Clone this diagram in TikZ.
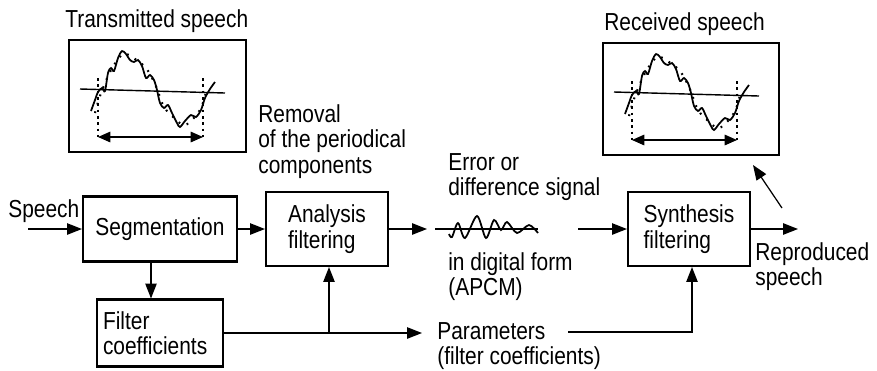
\documentclass[tikz,border=0pt]{standalone}
\usepackage{fontspec}
\setmainfont[FakeStretch=0.85]{Liberation Sans}
\usetikzlibrary{arrows.meta,calc}

% one speech frame, drawn in pixel units of the frame on the left
\newcommand\speechwave{%
  \draw[line width=0.8pt] (80,89) -- (225,93);
  \draw[cutline] (98,78) -- (98,137);
  \draw[cutline] (203,78) -- (203,137);
  \draw[period] (98,137) -- (203,137);
  \draw[wave] plot[smooth] coordinates {(91,111) (95,100) (98,92) (102,88) (105,91)
    (108,73) (111,68) (114,71) (118,58) (122,51) (126,54) (130,60) (134,62) (138,60)
    (142,66) (146,78) (150,75) (154,80) (157,90) (160,103) (164,108) (168,105)
    (172,113) (177,123) (180,127) (185,121) (191,115) (196,117) (201,110) (205,98)
    (210,89) (215,82)};
  \draw[dots] plot[smooth] coordinates {(95,113) (100,96) (110,72) (123,54) (135,59)
    (146,68) (155,84) (163,105) (170,114) (185,125) (200,110) (206,92)};
}

\begin{document}
\begin{tikzpicture}[x=0.02cm,y=-0.02cm,
  font=\fontsize{14pt}{14.5pt}\selectfont,
  block/.style={draw,line width=1.2pt,align=left,inner sep=0pt},
  frame/.style={draw,line width=1.1pt,inner sep=0pt},
  lbl/.style={inner sep=0pt,align=left},
  arr/.style={-{Triangle[length=8.5pt,width=6.5pt]},line width=0.7pt},
  period/.style={{Triangle[length=7pt,width=6pt]}-{Triangle[length=7pt,width=6pt]},line width=0.7pt},
  cutline/.style={line width=1.1pt,dash pattern=on 1.6pt off 2pt},
  wave/.style={line width=1pt},
  dots/.style={line width=1.2pt,dash pattern=on 1pt off 4pt}]
\useasboundingbox (0,0) rectangle (877,370);

% speech frames
\node[frame,minimum width=3.54cm,minimum height=2.24cm] (txbox) at (157.5,96) {};
\node[frame,minimum width=3.52cm,minimum height=2.24cm] (rxbox) at (691,99) {};
\node[lbl,anchor=base west] (txlbl) at (65,27) {Transmitted speech};
\node[lbl,anchor=base west] (rxlbl) at (604,30) {Received speech};
\begin{scope}
  \speechwave
\end{scope}
\begin{scope}[shift={(534,3)}]
  \speechwave
\end{scope}

% blocks
\node[block,minimum width=3.08cm,minimum height=1.30cm] (seg) at (160,229) {Segmentation};
\node[block,minimum width=2.44cm,minimum height=1.48cm] (ana) at (327,229) {Analysis\\filtering};
\node[block,minimum width=2.44cm,minimum height=1.48cm] (syn) at (689,229) {Synthesis\\filtering};
\node[block,minimum width=2.52cm,minimum height=1.34cm,text width=2.28cm] (filt) at (160,333) {Filter\\coefficients};

% labels
\node[lbl,anchor=base west] (speech) at (8,217) {Speech};
\node[lbl,anchor=north west] (removal) at (258,104) {Removal\\of the periodical\\components};
\node[lbl,anchor=north west] (errlbl) at (448,153) {Error or\\difference signal};
\node[lbl,anchor=north west] (apcm) at (448,252) {in digital form\\(APCM)};
\node[lbl,anchor=north west] (params) at (437,322) {Parameters\\(filter coefficients)};
\node[lbl,anchor=north west] (repro) at (755,242) {Reproduced\\speech};

% error signal
\draw[line width=0.7pt] (435,229) -- (538,229);
\draw[wave] plot[smooth] coordinates {(449,234) (452,237) (458,223) (465,238) (477,216)
  (486,238) (494,220) (501,230) (507,222) (517,233) (529,225) (538,233)};

% connectors
\coordinate (spin) at (28,229);
\coordinate (sigin) at (427,229);
\coordinate (sigout) at (578,229);
\coordinate (out) at (798,229);
\coordinate (branch) at (329,333);
\coordinate (parin) at (422,333);
\coordinate (parout) at (568,332);
\coordinate (rxfrom) at (782,208);
\coordinate (rxto) at (753,165);

\draw[arr] (spin) -- (seg);
\draw[arr] (seg) -- (ana);
\draw[arr] (ana) -- (sigin);
\draw[arr] (sigout) -- (syn);
\draw[arr] (syn) -- (out);
\draw[arr] (rxfrom) -- (rxto);
\draw[arr] ([xshift=-0.18cm]seg.south) -- ([xshift=-0.18cm]filt.north);
\draw[arr] (filt) -- (parin);
\draw[arr] (branch) -- (branch |- ana.south);
\draw[arr] (parout) -| ([xshift=0.06cm]syn.south);
\end{tikzpicture}
\end{document}
